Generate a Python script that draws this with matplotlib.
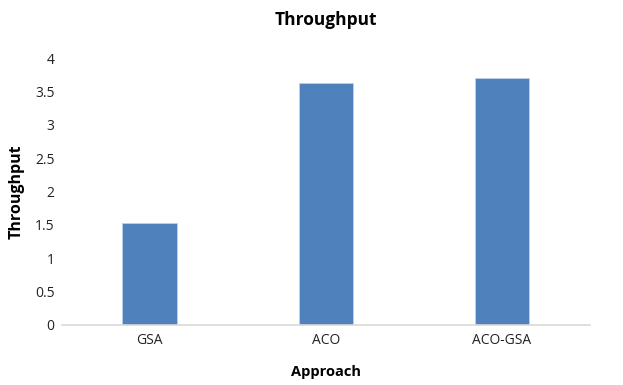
import matplotlib
matplotlib.use('Agg')
from matplotlib import pyplot as plt

# throughput per approach
approaches = ['GSA', 'ACO', 'ACO-GSA']
throughput = [1.53, 3.63, 3.70]
yticks = [0, 0.5, 1, 1.5, 2, 2.5, 3, 3.5, 4]

plt.rcParams['font.family'] = ['Open Sans', 'DejaVu Sans']

fig = plt.figure(figsize=(6.23, 3.85), dpi=100)
ax = fig.add_axes([0.099, 0.156, 0.848, 0.693])

x = range(len(approaches))
ax.bar(x, throughput, width=0.31, color='#4F81BD', edgecolor='#BCD0EA', linewidth=0.6, zorder=2)

ax.set_xlim(-0.5, len(approaches) - 0.5)
ax.set_ylim(0, 4)
ax.set_yticks(yticks)
ax.set_yticklabels(['0', '0.5', '1', '1.5', '2', '2.5', '3', '3.5', '4'])
ax.set_xticks(list(x))
ax.set_xticklabels(approaches)

for s in ['top', 'right', 'left']:
    ax.spines[s].set_visible(False)
ax.spines['bottom'].set_color('#D9D9D9')
ax.spines['bottom'].set_linewidth(1.2)
ax.tick_params(axis='both', length=0, labelsize=10, colors='#222222')
ax.tick_params(axis='y', pad=5)
ax.tick_params(axis='x', pad=6)

ax.set_title('Throughput', fontsize=12.5, fontweight='bold', pad=24)
ax.set_xlabel('Approach', fontsize=10.5, fontweight='bold')
ax.xaxis.set_label_coords(0.5, -0.152)
ax.set_ylabel('Throughput', fontsize=11.5, fontweight='bold')
ax.yaxis.set_label_coords(-0.07, 0.5)

fig.savefig('out.png', dpi=100)
